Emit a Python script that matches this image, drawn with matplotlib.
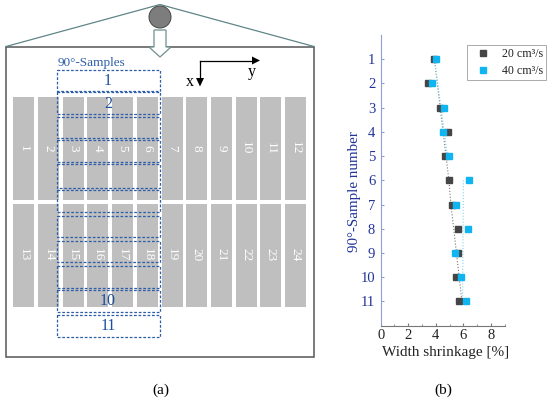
import matplotlib
matplotlib.use("Agg")
import matplotlib.pyplot as plt
from matplotlib.patches import Rectangle, Circle, Polygon

plt.rcParams['font.family'] = ['Liberation Serif', 'DejaVu Serif']

# chart data
samples = [1, 2, 3, 4, 5, 6, 7, 8, 9, 10, 11]
shrink_20 = [3.9, 3.45, 4.3, 4.85, 4.65, 4.95, 5.15, 5.6, 5.6, 5.5, 5.7]
shrink_40 = [4.0, 3.75, 4.6, 4.55, 4.95, 6.4, 5.5, 6.35, 5.4, 5.8, 6.2]
# dotted trend segments
trend_20_x = [3.9, 4.95, 5.1, 5.9]
trend_20_y = [1, 6, 7, 11]
trend_40_x = [3.9, 4.85]
trend_40_y = [1, 5]
trend_40b_x = [6.0, 5.95]
trend_40b_y = [6, 11]
x_ticks = [0, 2, 4, 6, 8]
legend_labels = ['20 cm³/s', '40 cm³/s']

# schematic, in pixels of the picture
strip_labels_top = [str(i) for i in range(1, 13)]
strip_labels_bottom = [str(i) for i in range(13, 25)]
sample_tops = [69.7, 92.3, 116.7, 140.3, 163.5, 190, 215.7, 241, 266, 290, 315]
sample_bottoms = [90.7, 114.3, 138, 162, 187.7, 212, 237.3, 262.3, 287.7, 311.7, 336.7]
sample_names = {0: '1', 1: '2', 9: '10', 10: '11'}

BLUE = '#2f5ea8'
NAVY = '#22339a'
BLACK_MARK = '#454545'
CYAN_MARK = '#10b4f0'

fig = plt.figure(figsize=(5.5, 4.03), dpi=100)

# left panel
sk = fig.add_axes([0, 0, 1, 1])
sk.set_xlim(0, 550)
sk.set_ylim(403, 0)
sk.axis('off')

sk.add_patch(Rectangle((5.7, 46.7), 308.6, 310.3, fc='white', ec='#555555', lw=1.1))
sk.plot([6, 160, 314], [46.5, 4.5, 46.5], color='#5f8588', lw=0.9)
sk.add_patch(Circle((160, 17), 11, fc='#7d7d7d', ec='#444444', lw=0.7, zorder=3))
sk.add_patch(Polygon([(154, 30), (166, 30), (166, 47), (171, 47), (160, 57),
                      (149, 47), (154, 47)], fc='white', ec='#6f8f8f', lw=0.9, zorder=3))

for i in range(12):
    x0 = 13.3 + i * 24.7
    sk.add_patch(Rectangle((x0, 96.7), 21, 103.3, fc='#bfbfbf', ec='none'))
    sk.add_patch(Rectangle((x0, 203.7), 21, 103.6, fc='#bfbfbf', ec='none'))
    sk.text(x0 + 10.5, 148, strip_labels_top[i], color='white', fontsize=9.5,
            rotation=-90, ha='center', va='center')
    sk.text(x0 + 10.5, 255, strip_labels_bottom[i], color='white', fontsize=9.5,
            rotation=-90, ha='center', va='center')

for i in range(len(sample_tops)):
    sk.add_patch(Rectangle((57, sample_tops[i]), 103.3, sample_bottoms[i] - sample_tops[i],
                           fc='none', ec=BLUE, lw=0.9, ls=(0, (2.2, 1.4)), zorder=4))
    if i in sample_names:
        sk.text(108, (sample_tops[i] + sample_bottoms[i]) / 2 + 0.5, sample_names[i],
                color='#1c4fa0', fontsize=11.5, ha='center', va='center', zorder=5)

sk.text(57.5, 63, '90°-Samples', color=BLUE, fontsize=9.5, ha='left', va='center')

# x/y arrows
sk.plot([200, 200], [60.5, 78], color='black', lw=0.9)
sk.plot([200, 252], [60.5, 60.5], color='black', lw=0.9)
sk.add_patch(Polygon([(196, 78), (204, 78), (200, 86.5)], fc='black', ec='none'))
sk.add_patch(Polygon([(252, 56.5), (252, 64.5), (260, 60.5)], fc='black', ec='none'))
sk.text(189.5, 82, 'x', fontsize=11.5, ha='center', va='center')
sk.text(252, 72, 'y', fontsize=11.5, ha='center', va='center')

sk.text(160.5, 390, '(a)', fontsize=11, ha='center', va='center')
sk.text(443, 390, '(b)', fontsize=11, ha='center', va='center')

# right panel
W, H = 550.0, 403.0
ax = fig.add_axes([380.7 / W, 1 - 325.7 / H, 124 / W, 290.7 / H])
ax.patch.set_alpha(0)
ax.plot(trend_20_x, trend_20_y, color='#777777', lw=0.8, ls=':')
ax.plot(trend_40_x, trend_40_y, color='#7fd4f2', lw=0.8, ls=':')
ax.plot(trend_40b_x, trend_40b_y, color='#7fd4f2', lw=0.8, ls=':')
ax.plot(shrink_20, samples, ls='none', marker='s', ms=4.4, color=BLACK_MARK, label=legend_labels[0])
ax.plot(shrink_40, samples, ls='none', marker='s', ms=4.4, color=CYAN_MARK, label=legend_labels[1])

ax.set_xlim(0, 9)
ax.set_ylim(12, 0)
ax.set_xticks(x_ticks)
ax.set_xticks([1, 3, 5, 7, 9], minor=True)
ax.set_yticks(samples)
ax.spines['top'].set_visible(False)
ax.spines['right'].set_visible(False)
ax.spines['left'].set_color('#8f9fd8')
ax.spines['bottom'].set_color('#777777')
ax.tick_params(axis='x', which='major', direction='in', length=2.5, color='#777777',
               labelsize=10.5, pad=2.5, labelcolor='#222222')
ax.tick_params(axis='x', which='minor', direction='in', length=1.5, color='#777777')
ax.tick_params(axis='y', direction='in', length=2, color='#8f9fd8',
               labelsize=10.5, pad=4, labelcolor=NAVY)
ax.set_xlabel('Width shrinkage [%]', fontsize=11, color='#222222', labelpad=3, x=0.52)
ax.set_ylabel('90°-Sample number', fontsize=10.8, color=NAVY, labelpad=0, y=0.46)

leg = ax.legend(loc='upper left', bbox_to_anchor=((467 - 380.7) / 124, (325.7 - 45) / 290.7),
                fontsize=8.6, frameon=True, fancybox=False, edgecolor='#aaaaaa', framealpha=1,
                borderaxespad=0, borderpad=0.25, handlelength=2.2, handletextpad=0.45,
                labelspacing=0.4, numpoints=1)
leg.get_frame().set_linewidth(0.7)
for t in leg.get_texts():
    t.set_color('#222222')

fig.savefig('out.png', dpi=100)
